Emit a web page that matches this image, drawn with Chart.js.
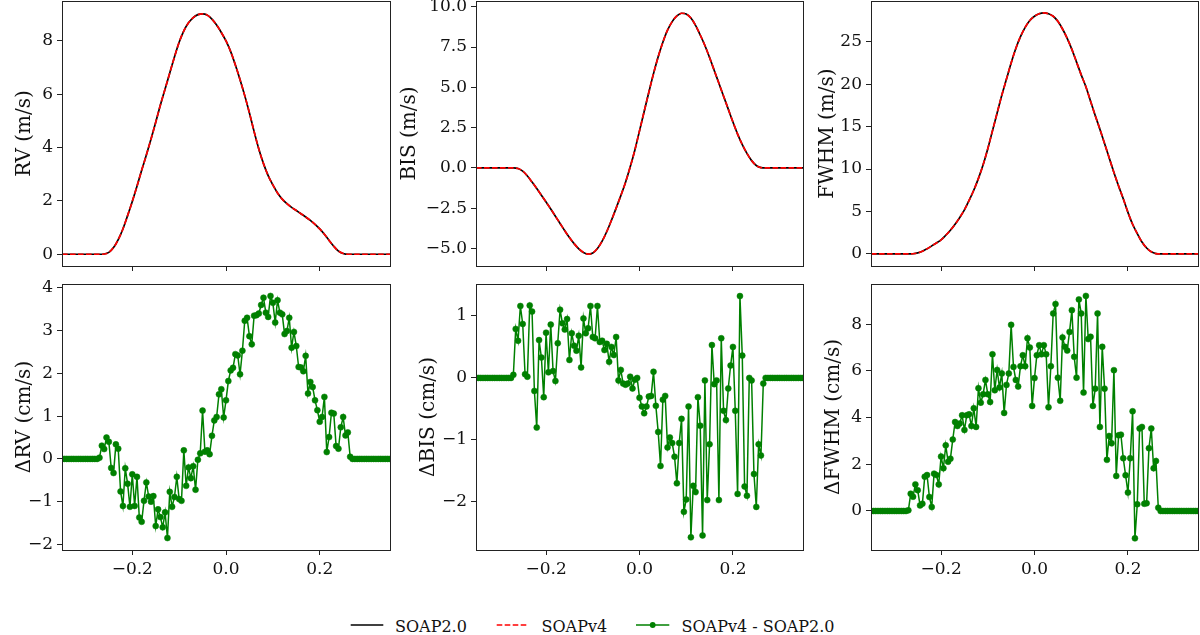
<!DOCTYPE html>
<html>
<head>
<meta charset="utf-8">
<script src="https://cdn.jsdelivr.net/npm/chart.js@4/dist/chart.umd.min.js"></script>
<style>
html,body{margin:0;padding:0;background:#fff;width:1200px;height:635px;overflow:hidden;position:relative;font-family:'DejaVu Serif',serif;}
canvas{position:absolute;}
.lg{position:absolute;top:617px;font-size:16px;line-height:20px;color:#111;white-space:nowrap;font-family:'DejaVu Serif',serif;}
</style>
</head>
<body>
<canvas id="cRV"></canvas>
<canvas id="cBIS"></canvas>
<canvas id="cFWHM"></canvas>
<canvas id="cdRV"></canvas>
<canvas id="cdBIS"></canvas>
<canvas id="cdFWHM"></canvas>
<svg style="position:absolute;left:0;top:600px" width="1200" height="35">
  <line x1="350.7" y1="25" x2="383.3" y2="25" stroke="#000" stroke-width="1.6"/>
  <line x1="496.7" y1="25" x2="528.3" y2="25" stroke="#ff0000" stroke-width="1.6" stroke-dasharray="5.6,2.4"/>
  <line x1="636" y1="25" x2="669.3" y2="25" stroke="#008000" stroke-width="1.6"/>
  <circle cx="652.7" cy="25" r="2.9" fill="#008000"/>
</svg>
<span class="lg" style="left:395px">SOAP2.0</span>
<span class="lg" style="left:541.5px">SOAPv4</span>
<span class="lg" style="left:681.5px">SOAPv4 - SOAP2.0</span>
<script>
// ---------- DATA ----------
const phaseTop = [-0.35,-0.34,-0.33,-0.32,-0.31,-0.3,-0.29,-0.28,-0.27,-0.26,-0.25,-0.24,-0.23,-0.22,-0.21,-0.2,-0.19,-0.18,-0.17,-0.16,-0.15,-0.14,-0.13,-0.12,-0.11,-0.1,-0.09,-0.08,-0.07,-0.06,-0.05,-0.04,-0.03,-0.02,-0.01,0,0.01,0.02,0.03,0.04,0.05,0.06,0.07,0.08,0.09,0.1,0.11,0.12,0.13,0.14,0.15,0.16,0.17,0.18,0.19,0.2,0.21,0.22,0.23,0.24,0.25,0.26,0.27,0.28,0.29,0.3,0.31,0.32,0.33,0.34,0.35];

const rvSOAP20 = [0,0,0,0,0,0,0,0,0,
 0.01,0.07,0.25,0.55,0.95,1.45,1.98,2.55,3.15,3.72,
 4.32,4.95,5.6,6.2,6.8,7.4,7.95,8.38,8.68,8.88,
 8.99,9.02,8.97,8.82,8.6,8.32,8.0,7.6,7.1,6.55,
 5.95,5.3,4.6,3.95,3.4,2.95,2.6,2.3,2.07,1.9,
 1.76,1.64,1.52,1.4,1.27,1.12,0.95,0.75,0.52,0.3,
 0.12,0.03,0,
 0,0,0,0,0,0,0,0,0];
const rvSOAPv4 = rvSOAP20.slice(); // coincides with SOAP2.0 at this scale

const bisSOAP20 = [0,0,0,0,0,0,0,0,0,
 -0.04,-0.2,-0.5,-0.88,-1.28,-1.7,-2.12,-2.55,-3.0,-3.45,
 -3.9,-4.32,-4.7,-5.02,-5.25,-5.35,-5.28,-5.0,-4.55,-3.95,
 -3.25,-2.5,-1.72,-0.9,0.05,1.1,2.3,3.5,4.7,5.85,
 6.9,7.8,8.55,9.08,9.43,9.6,9.55,9.3,8.85,8.25,
 7.6,6.85,6.05,5.25,4.45,3.65,2.85,2.1,1.45,0.9,
 0.45,0.15,0.02,
 0,0,0,0,0,0,0,0,0];
const bisSOAPv4 = bisSOAP20.slice();

const fwhmSOAP20 = [0,0,0,0,0,0,0,0,0,
 0.02,0.12,0.32,0.6,0.95,1.3,1.65,2.2,2.8,3.5,
 4.3,5.2,6.3,7.5,8.9,10.5,12.4,14.5,16.6,18.7,
 20.6,22.5,24.2,25.6,26.7,27.5,28.0,28.3,28.4,28.3,
 28.0,27.4,26.5,25.4,24.1,22.6,21.1,19.7,18.0,16.3,
 14.7,13.0,11.3,9.6,8.0,6.5,4.9,3.5,2.4,1.4,
 0.7,0.25,0.04,
 0,0,0,0,0,0,0,0,0];
const fwhmSOAPv4 = fwhmSOAP20.slice();

const phaseDiff = [-0.35,-0.345,-0.34,-0.335,-0.33,-0.325,-0.32,-0.315,-0.31,-0.305,
 -0.3,-0.295,-0.29,-0.285,-0.28,-0.275,-0.27,-0.265,-0.26,-0.255,
 -0.25,-0.245,-0.24,-0.235,-0.23,-0.225,-0.22,-0.215,-0.21,-0.205,
 -0.2,-0.195,-0.19,-0.185,-0.18,-0.175,-0.17,-0.165,-0.16,-0.155,
 -0.15,-0.145,-0.14,-0.135,-0.13,-0.125,-0.12,-0.115,-0.11,-0.105,
 -0.1,-0.095,-0.09,-0.085,-0.08,-0.075,-0.07,-0.065,-0.06,-0.055,
 -0.05,-0.045,-0.04,-0.035,-0.03,-0.025,-0.02,-0.015,-0.01,-0.005,
 0,
 0.005,0.01,0.015,0.02,0.025,0.03,0.035,0.04,0.045,0.05,
 0.055,0.06,0.065,0.07,0.075,0.08,0.085,0.09,0.095,0.1,
 0.105,0.11,0.115,0.12,0.125,0.13,0.135,0.14,0.145,0.15,
 0.155,0.16,0.165,0.17,0.175,0.18,0.185,0.19,0.195,0.2,
 0.205,0.21,0.215,0.22,0.225,0.23,0.235,0.24,0.245,0.25,
 0.255,0.26,0.265,0.27,0.275,0.28,0.285,0.29,0.295,0.3,
 0.305,0.31,0.315,0.32,0.325,0.33,0.335,0.34,0.345,0.35];

const dRV = [0,0,0,0,0,0,0,0,0,0,0,0,0,0,0,0,
 0.03,
 0.31,0.23,0.5,0.4,-0.21,-0.33,0.34,0.24,-0.76,-1.1,
 -0.22,-0.58,-1.12,-0.36,-1.1,-0.42,-1.37,-1.47,-0.98,-0.55,
 -0.88,-1.0,-0.87,-1.57,-1.18,-1.36,-1.6,-1.25,-1.85,-0.77,
 -1.12,-0.89,-0.42,-0.94,-0.98,0.2,-0.63,-0.2,-0.45,-0.17,
 -0.72,-0.02,0.13,1.13,0.17,0.2,0.11,0.54,0.9,0.98,
 1.51,1.63,0.97,1.37,1.82,2.07,2.13,2.45,2.42,1.98,
 2.53,3.23,3.3,2.87,2.68,3.35,3.36,3.4,3.6,3.77,
 3.42,3.32,3.81,3.65,3.19,3.71,3.42,3.38,2.92,2.99,
 3.3,2.6,2.97,2.64,2.15,2.14,2.05,2.41,1.53,1.8,
 1.68,1.37,1.14,0.87,0.98,1.45,0.16,0.51,1.08,1.06,
 0.3,0.24,0.74,0.98,0.55,0.62,0.05,
 0,0,0,0,0,0,0,0,0,0,0,0,0,0,0,0,0];

const dBIS = [0,0,0,0,0,0,0,0,0,0,0,0,0,0,0,0,
 0.05,
 0.79,0.6,1.16,0.87,0.06,0.02,1.17,1.07,-0.21,-0.8,
 0.61,0.33,-0.31,0.73,0.09,0.86,0.11,-0.05,0.56,1.1,
 0.88,0.78,0.95,0.29,0.72,0.52,0.44,0.68,0.17,0.96,
 0.72,0.8,1.16,0.66,0.64,1.16,0.58,0.6,0.45,0.55,
 0.26,0.5,0.37,0.66,-0.04,0.13,-0.09,-0.11,-0.09,0.02,
 -0.17,-0.03,0.0,-0.32,-0.46,-0.57,-0.46,-0.3,-0.29,0.1,
 -0.45,-0.87,-1.42,-0.35,-0.29,-1.12,-0.96,-1.05,-1.27,-1.7,
 -1.05,-0.66,-2.16,-1.96,-0.46,-2.57,-1.74,-1.84,-0.31,-0.77,
 -2.54,-0.04,-1.97,-1.07,0.53,-0.1,-0.04,-1.97,0.64,-0.53,
 -0.68,-0.17,0.2,0.5,-0.53,-1.87,1.32,0.36,-1.75,-1.9,
 0.0,-0.04,-1.55,-2.08,-1.07,-1.25,-0.09,
 0,0,0,0,0,0,0,0,0,0,0,0,0,0,0,0,0];

const dFWHM = [0,0,0,0,0,0,0,0,0,0,0,0,0,0,0,0,
 0.03,
 0.74,0.61,1.14,0.89,0.24,0.31,1.47,1.54,0.6,0.17,
 1.6,1.54,1.14,2.33,1.83,2.81,2.11,2.24,3.06,3.81,
 3.64,3.75,4.1,3.47,4.1,4.14,3.64,4.4,3.6,5.26,
 4.64,5.0,5.61,5.0,4.67,6.71,5.17,6.04,5.29,5.89,
 4.2,5.4,5.89,7.97,6.17,5.61,5.33,6.2,6.67,6.2,
 7.4,7.0,4.5,5.69,6.67,7.1,6.71,7.1,6.71,4.44,
 6.2,8.46,8.86,5.71,4.72,7.43,7.03,6.87,7.67,8.6,
 6.6,5.71,9.06,8.46,5.07,9.21,7.36,7.46,4.5,5.24,
 8.46,3.6,7.03,5.24,2.19,3.21,2.9,6.03,1.5,3.24,
 3.27,2.26,1.53,0.79,2.26,4.27,-1.17,0.29,3.53,3.6,
 0.31,0.33,2.69,3.53,1.83,2.14,0.14,
 0,0,0,0,0,0,0,0,0,0,0,0,0,0,0,0,0];

const xTicks = [-0.2, 0.0, 0.2];
const legendLabels = ['SOAP2.0', 'SOAPv4', 'SOAPv4 - SOAP2.0'];

// ---------- DRAWING ----------
const FONT = "'DejaVu Serif', serif";
const TXT = '#111';
const AX = '#222';
const YW = 80;
const TITLE_SIZE = 20;

function fmt(v, dec) {
  const s = Math.abs(v).toFixed(dec);
  return (v < -1e-9 ? '\u2212' : '') + s;
}

const framePlugin = {
  id: 'frame',
  afterDraw(chart) {
    const a = chart.chartArea, ctx = chart.ctx;
    const al = p => Math.round(p - 0.5) + 0.5;
    ctx.save();
    ctx.strokeStyle = AX;
    ctx.lineWidth = 1;
    const l = al(a.left), r = al(a.right), t = al(a.top), b = al(a.bottom);
    ctx.strokeRect(l, t, r - l, b - t);
    ctx.restore();
  }
};

function toXY(xs, ys) { return xs.map((x, i) => ({x: x, y: ys[i]})); }

function makeChart(id, g, datasets, y) {
  const cv = document.getElementById(id);
  const cw = YW + g.W + 6, ch = 4 + g.H + g.xH;
  cv.width = cw; cv.height = ch;
  cv.style.left = (g.L - YW) + 'px';
  cv.style.top = (g.T - 4) + 'px';
  cv.style.width = cw + 'px'; cv.style.height = ch + 'px';
  return new Chart(cv, {
    type: 'line',
    data: { datasets: datasets },
    plugins: [framePlugin],
    options: {
      responsive: false,
      animation: false,
      devicePixelRatio: 1,
      events: [],
      layout: { padding: {left: 0, top: 4, right: 6, bottom: 0}, autoPadding: false },
      plugins: { legend: {display: false}, tooltip: {enabled: false} },
      scales: {
        x: {
          type: 'linear', min: -0.35, max: 0.35,
          afterFit(s) { s.height = g.xH; s.paddingLeft = 0; s.paddingRight = 0; },
          afterBuildTicks(s) { s.ticks = xTicks.map(v => ({value: v})); },
          ticks: { display: g.showX, autoSkip: false, maxRotation: 0, padding: 4,
                   font: {family: FONT, size: 17}, color: TXT,
                   callback: v => fmt(v, 1) },
          grid: { drawOnChartArea: false, drawTicks: true, tickLength: 5, color: AX, tickColor: AX, lineWidth: 1 },
          border: { display: false }
        },
        y: {
          type: 'linear', min: y.min, max: y.max,
          afterFit(s) { s.width = YW; s.paddingTop = 0; s.paddingBottom = 0; },
          afterBuildTicks(s) { s.ticks = y.ticks.map(v => ({value: v})); },
          ticks: { autoSkip: false, padding: 4, font: {family: FONT, size: 17}, color: TXT,
                   callback: v => fmt(v, y.dec) },
          grid: { drawOnChartArea: false, drawTicks: true, tickLength: 5, color: AX, tickColor: AX, lineWidth: 1 },
          border: { display: false },
          title: { display: true, text: y.title, color: TXT,
                   font: {family: FONT, size: TITLE_SIZE},
                   padding: {top: YW - y.dist - TITLE_SIZE * 0.6, bottom: 0} }
        }
      }
    }
  });
}

function topSets(xs, a, b) {
  return [
    { label: legendLabels[0], data: toXY(xs, a), order: 2, borderColor: '#000000', borderWidth: 1.7,
      pointRadius: 0, cubicInterpolationMode: 'monotone', clip: 0 },
    { label: legendLabels[1], data: toXY(xs, b), order: 1, borderColor: '#ff0000', borderWidth: 1.7,
      borderDash: [5.6, 2.4], pointRadius: 0, cubicInterpolationMode: 'monotone', clip: 0 }
  ];
}
function diffSet(xs, d) {
  return [{ label: legendLabels[2], data: toXY(xs, d), borderColor: '#008000', borderWidth: 1.5, tension: 0,
            pointRadius: 3, pointBackgroundColor: '#008000', pointBorderColor: '#008000',
            pointBorderWidth: 0.5, pointHoverRadius: 0, clip: 0 }];
}

const cols = [{L: 62, W: 328}, {L: 476, W: 327}, {L: 871, W: 327}];
const rowTop = {T: 1, H: 265, xH: 12, showX: false};
const rowBot = {T: 284, H: 266, xH: 45, showX: true};
function geom(c, r) { return Object.assign({}, cols[c], r); }

makeChart('cRV', geom(0, rowTop), topSets(phaseTop, rvSOAP20, rvSOAPv4),
  {min: -0.44, max: 9.5, ticks: [0, 2, 4, 6, 8], dec: 0, title: 'RV (m/s)', dist: 37});
makeChart('cBIS', geom(1, rowTop), topSets(phaseTop, bisSOAP20, bisSOAPv4),
  {min: -6.09, max: 10.36, ticks: [-5, -2.5, 0, 2.5, 5, 7.5, 10], dec: 1, title: 'BIS (m/s)', dist: 66});
makeChart('cFWHM', geom(2, rowTop), topSets(phaseTop, fwhmSOAP20, fwhmSOAPv4),
  {min: -1.42, max: 29.8, ticks: [0, 5, 10, 15, 20, 25], dec: 0, title: 'FWHM (m/s)', dist: 43.5});
makeChart('cdRV', geom(0, rowBot), diffSet(phaseDiff, dRV),
  {min: -2.13, max: 4.09, ticks: [-2, -1, 0, 1, 2, 3, 4], dec: 0, title: '\u0394RV (cm/s)', dist: 37});
makeChart('cdBIS', geom(1, rowBot), diffSet(phaseDiff, dBIS),
  {min: -2.775, max: 1.515, ticks: [-2, -1, 0, 1], dec: 0, title: '\u0394BIS (cm/s)', dist: 47});
makeChart('cdFWHM', geom(2, rowBot), diffSet(phaseDiff, dFWHM),
  {min: -1.67, max: 9.72, ticks: [0, 2, 4, 6, 8], dec: 0, title: '\u0394FWHM (cm/s)', dist: 37});
</script>
</body>
</html>
